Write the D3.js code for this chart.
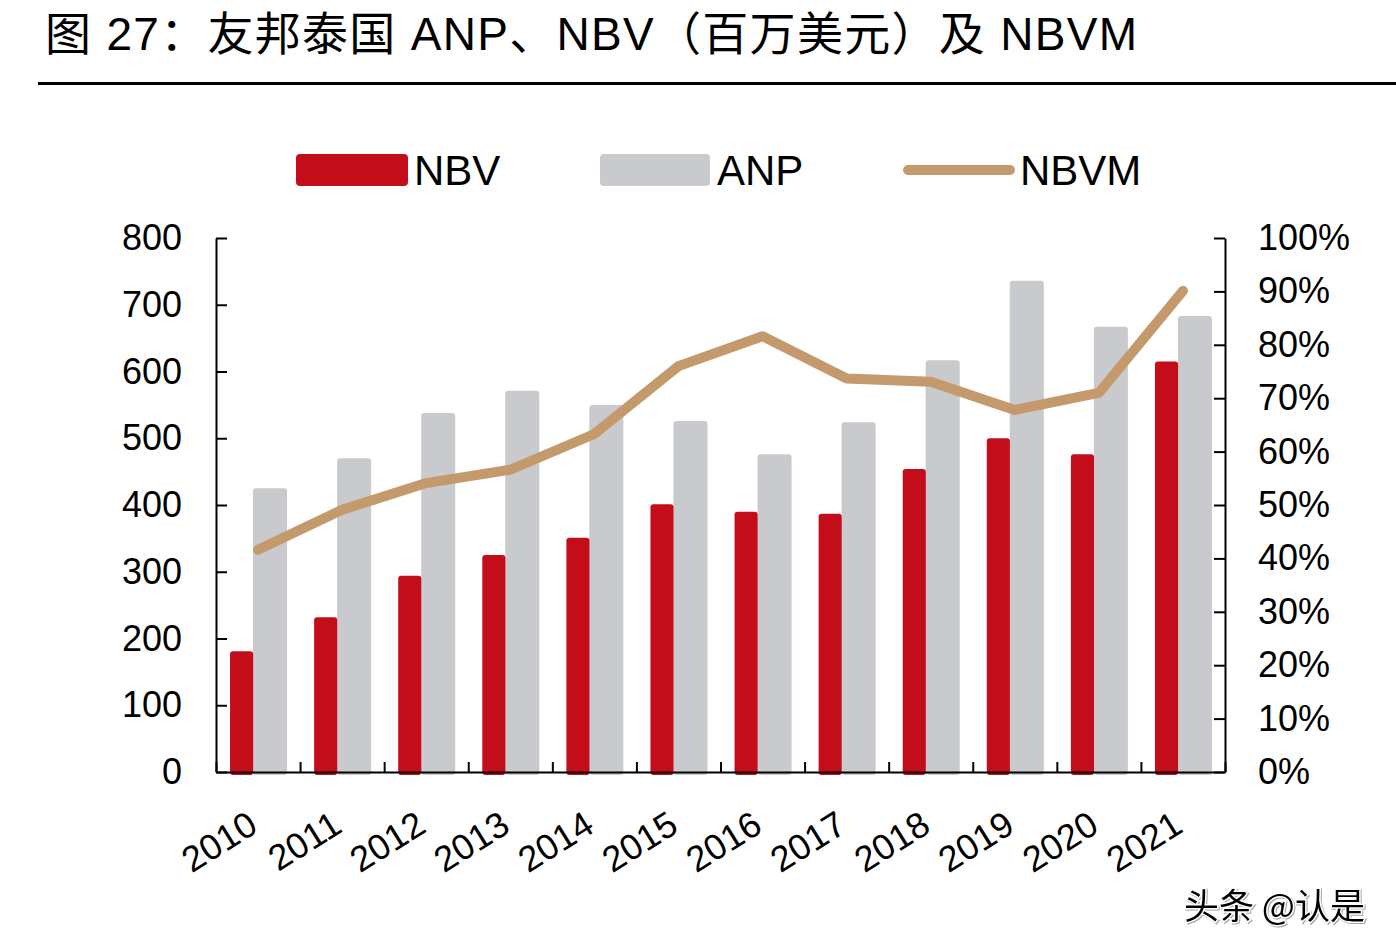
<!DOCTYPE html>
<html>
<head>
<meta charset="utf-8">
<script src="https://cdn.jsdelivr.net/npm/d3@7"></script>
<style>
  html, body { margin: 0; padding: 0; background: #ffffff; }
  svg { display: block; }
  text { font-family: "Liberation Sans", Arial, sans-serif; fill: #000; }
</style>
</head>
<body>
<svg id="chart" width="1396" height="950"></svg>
<script>
const years = ["2010","2011","2012","2013","2014","2015","2016","2017","2018","2019","2020","2021"];
const nbv  = [181, 232, 294, 325, 351, 401, 390, 387, 454, 500, 476, 615];
const anp  = [425, 470, 538, 571, 550, 526, 476, 524, 617, 736, 667, 683];
const nbvm = [0.416, 0.491, 0.541, 0.566, 0.633, 0.760, 0.816, 0.737, 0.731, 0.678, 0.710, 0.901];
const leftTicks = [0, 100, 200, 300, 400, 500, 600, 700, 800];
const rightTicks = [0, 0.1, 0.2, 0.3, 0.4, 0.5, 0.6, 0.7, 0.8, 0.9, 1.0];
const titleText = "图 27：友邦泰国 ANP、NBV（百万美元）及 NBVM";
const legendItems = ["NBV", "ANP", "NBVM"];

const RED = "#c40d1a", GRAY = "#c9cacd", TAN = "#c49a6c";

const svg = d3.select("#chart");
const L = 216, R = 1225, T = 238, B = 772;

// Title
svg.append("text")
  .attr("x", 45).attr("y", 50)
  .style("font-family", "'Liberation Sans','Noto Sans CJK SC',sans-serif")
  .style("font-size", "46px")
  .style("letter-spacing", "1.3px")
  .text(titleText);
svg.append("line")
  .attr("x1", 38).attr("x2", 1396).attr("y1", 83.5).attr("y2", 83.5)
  .attr("stroke", "#000").attr("stroke-width", 3);

// Scales
const x = d3.scaleBand().domain(years).range([L, R]).padding(0);
const xi = d3.scaleLinear().domain([0, years.length]).range([L, R]);
const y = d3.scaleLinear().domain([0, 800]).range([B, T]);
const y2 = d3.scaleLinear().domain([0, 1]).range([B, T]);
const bw = x.bandwidth();

// Bars
const g = svg.append("g");
g.selectAll("rect.anp").data(years).join("rect")
  .attr("class", "anp")
  .attr("x", d => x(d) + bw * 0.44)
  .attr("width", bw * 0.405)
  .attr("y", (d, i) => y(anp[i]))
  .attr("height", (d, i) => y(0) - y(anp[i]) + 3)
  .attr("rx", 3)
  .attr("fill", GRAY);
g.selectAll("rect.nbv").data(years).join("rect")
  .attr("class", "nbv")
  .attr("x", d => x(d) + bw * 0.167)
  .attr("width", bw * 0.275)
  .attr("y", (d, i) => y(nbv[i]))
  .attr("height", (d, i) => y(0) - y(nbv[i]) + 3)
  .attr("rx", 3)
  .attr("fill", RED);

// Line
const line = d3.line()
  .x((d, i) => x(years[i]) + bw / 2)
  .y(d => y2(d));
svg.append("path")
  .datum(nbvm)
  .attr("d", line)
  .attr("fill", "none")
  .attr("stroke", TAN)
  .attr("stroke-width", 10)
  .attr("stroke-linecap", "round")
  .attr("stroke-linejoin", "round");

// Axes
const leftAxis = d3.axisLeft(y).tickValues(leftTicks).tickSizeInner(-11).tickSizeOuter(0).tickPadding(34);
const rightAxis = d3.axisRight(y2).tickValues(rightTicks).tickSizeInner(-11).tickSizeOuter(0).tickPadding(33)
  .tickFormat(d3.format(".0%"));
const bottomAxis = d3.axisBottom(xi).tickValues(d3.range(0, years.length + 1))
  .tickSizeInner(-10).tickSizeOuter(0).tickFormat("");

function styleAxis(sel) {
  sel.selectAll("path.domain").attr("stroke", "#000").attr("stroke-width", 2);
  sel.selectAll(".tick line").attr("stroke", "#000").attr("stroke-width", 2);
  sel.selectAll(".tick text")
    .style("font-family", "'Liberation Sans', Arial, sans-serif")
    .style("font-size", "36px").attr("fill", "#000");
}
svg.append("g").attr("transform", `translate(${L},0)`).call(leftAxis).call(styleAxis);
svg.append("g").attr("transform", `translate(${R},0)`).call(rightAxis).call(styleAxis);
svg.append("g").attr("transform", `translate(0,${B})`).call(bottomAxis).call(styleAxis);

// X labels
svg.append("g").selectAll("text").data(years).join("text")
  .attr("transform", d => `translate(${x(d) + bw / 2 - 12},${809}) rotate(-32)`)
  .attr("text-anchor", "end")
  .attr("dy", "0.72em")
  .style("font-size", "36px")
  .text(d => d);

// Legend
const lg = svg.append("g");
lg.append("rect").attr("x", 296).attr("y", 154).attr("width", 112).attr("height", 32).attr("rx", 4).attr("fill", RED);
lg.append("rect").attr("x", 600).attr("y", 154).attr("width", 110).attr("height", 32).attr("rx", 4).attr("fill", GRAY);
lg.append("line").attr("x1", 908).attr("x2", 1010).attr("y1", 170).attr("y2", 170)
  .attr("stroke", TAN).attr("stroke-width", 10).attr("stroke-linecap", "round");
const legendX = [414, 717, 1020];
lg.selectAll("text").data(legendItems).join("text")
  .attr("x", (d, i) => legendX[i]).attr("y", 185)
  .style("font-size", "42px")
  .text(d => d);

// Watermark
svg.append("text")
  .attr("x", 1184).attr("y", 919)
  .style("font-family", "'Noto Sans CJK SC', sans-serif")
  .style("font-size", "35px")
  .style("paint-order", "stroke")
  .attr("stroke", "#ffffff").attr("stroke-width", 3)
  .style("filter", "drop-shadow(1px 1px 0px rgba(0,0,0,0.35))")
  .text("头条 @认是");
</script>
</body>
</html>
